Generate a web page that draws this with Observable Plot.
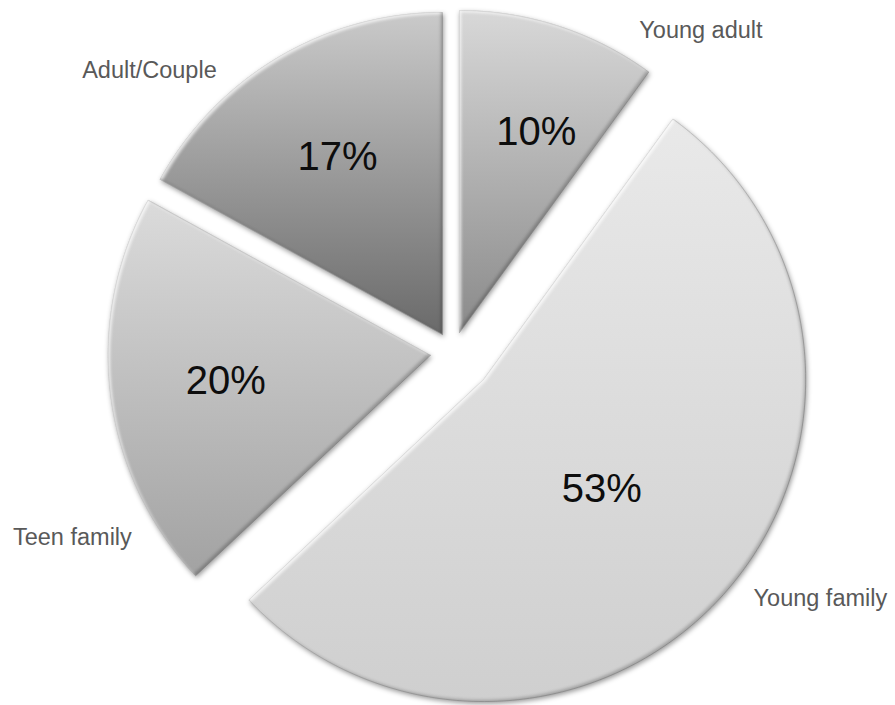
<!DOCTYPE html>
<html>
<head>
<meta charset="utf-8">
<script src="https://cdn.jsdelivr.net/npm/d3@7"></script>
<script src="https://cdn.jsdelivr.net/npm/@observablehq/plot@0.6"></script>
<style>
  html, body { margin: 0; padding: 0; background: #ffffff; }
  #chart { width: 895px; height: 705px; }
  #chart svg { font-family: "Liberation Sans", Arial, sans-serif; }
</style>
</head>
<body>
<div id="chart"></div>
<script>
// ---- data ----
const categories = ["Young adult", "Young family", "Teen family", "Adult/Couple"];
const shares = [10, 53, 20, 17];            // percent
const pctLabels = ["10%", "53%", "20%", "17%"];

// ---- layout (style, not data) ----
const explode = [0.065, 0.127, 0.071, 0.065];      // slice offset, in radius units
const pctDist = [0.665, 0.5, 0.64, 0.64];          // percent label distance from slice apex
const pctTurn = [3, 1.4, 0, 0];                    // small angular nudge of percent labels (deg)
const nameAngle = [37.6, 123.8, 244.1, 312.9];     // category label polar position (deg, clockwise from 12h)
const nameDist = [1.262, 1.373, 1.314, 1.287];
const gradTop = ["#d8d8d8", "#e9e9e9", "#dbdbdb", "#cacaca"];
const gradBottom = ["#8a8a8a", "#cfcfcf", "#a2a2a2", "#6a6a6a"];

const W = 895, H = 705, cx = 452.5, cy = 352, R = 322;

const arcs = d3.pie().sort(null).startAngle(0).endAngle(2 * Math.PI)(shares);

// polygon points of each slice (unit radius, y pointing down)
const slices = arcs.map((a, i) => {
  const mid = (a.startAngle + a.endAngle) / 2;
  const ox = explode[i] * Math.sin(mid), oy = -explode[i] * Math.cos(mid);
  const n = Math.max(8, Math.ceil((a.endAngle - a.startAngle) / (Math.PI / 180)));
  const pts = [{x: ox, y: oy}];
  for (let k = 0; k <= n; k++) {
    const t = a.startAngle + (a.endAngle - a.startAngle) * k / n;
    pts.push({x: ox + Math.sin(t), y: oy - Math.cos(t)});
  }
  pts.push({x: ox, y: oy});
  return {i, mid, ox, oy, pts};
});

const pctData = slices.map(s => {
  const t = s.mid + pctTurn[s.i] * Math.PI / 180;
  return {
    label: pctLabels[s.i],
    x: s.ox + pctDist[s.i] * Math.sin(t),
    y: s.oy - pctDist[s.i] * Math.cos(t)
  };
});

const nameData = categories.map((c, i) => {
  const t = nameAngle[i] * Math.PI / 180;
  return {label: c, x: nameDist[i] * Math.sin(t), y: -nameDist[i] * Math.cos(t)};
});

function defsMark() {
  const g = d3.create("svg:g");
  const defs = g.append("defs");
  slices.forEach(s => {
    const lg = defs.append("linearGradient")
      .attr("id", "grad" + s.i).attr("x1", 0).attr("y1", 0).attr("x2", 0).attr("y2", 1);
    lg.append("stop").attr("offset", "0%").attr("stop-color", gradTop[s.i]);
    lg.append("stop").attr("offset", "100%").attr("stop-color", gradBottom[s.i]);
  });
  const f = defs.append("filter").attr("id", "fx")
    .attr("x", "-10%").attr("y", "-10%").attr("width", "120%").attr("height", "120%")
    .attr("color-interpolation-filters", "sRGB");
  f.append("feGaussianBlur").attr("in", "SourceAlpha").attr("stdDeviation", 1.5).attr("result", "b");
  f.append("feOffset").attr("in", "b").attr("dx", 2).attr("dy", 2).attr("result", "o1");
  f.append("feComposite").attr("in", "SourceAlpha").attr("in2", "o1").attr("operator", "out").attr("result", "hl");
  f.append("feFlood").attr("flood-color", "#ffffff").attr("flood-opacity", 0.75).attr("result", "white");
  f.append("feComposite").attr("in", "white").attr("in2", "hl").attr("operator", "in").attr("result", "hlc");
  f.append("feOffset").attr("in", "b").attr("dx", -2).attr("dy", -2).attr("result", "o2");
  f.append("feComposite").attr("in", "SourceAlpha").attr("in2", "o2").attr("operator", "out").attr("result", "sh");
  f.append("feFlood").attr("flood-color", "#000000").attr("flood-opacity", 0.22).attr("result", "black");
  f.append("feComposite").attr("in", "black").attr("in2", "sh").attr("operator", "in").attr("result", "shc");
  f.append("feGaussianBlur").attr("in", "SourceAlpha").attr("stdDeviation", 2.5).attr("result", "d0");
  f.append("feOffset").attr("in", "d0").attr("dx", 1).attr("dy", 2).attr("result", "d1");
  f.append("feFlood").attr("flood-color", "#000000").attr("flood-opacity", 0.4).attr("result", "dk");
  f.append("feComposite").attr("in", "dk").attr("in2", "d1").attr("operator", "in").attr("result", "ds");
  const m = f.append("feMerge");
  ["ds", "SourceGraphic", "hlc", "shc"].forEach(n => m.append("feMergeNode").attr("in", n));
  return g.node();
}

const plot = Plot.plot({
  width: W,
  height: H,
  margin: 0,
  x: {domain: [-1, 1], range: [cx - R, cx + R], axis: null},
  y: {domain: [-1, 1], range: [cy - R, cy + R], axis: null},
  style: {background: "#ffffff"},
  marks: [
    defsMark,
    ...slices.map(s => Plot.line(s.pts, {
      x: "x", y: "y",
      fill: `url(#grad${s.i})`,
      stroke: "#9c9c9c", strokeWidth: 0.6, strokeLinejoin: "round",
      curve: "linear"
    })),
    Plot.text(pctData, {x: "x", y: "y", text: "label", fontSize: 40, fill: "#0d0d0d",
      textAnchor: "middle", lineAnchor: "middle"}),
    Plot.text(nameData, {x: "x", y: "y", text: "label", fontSize: 23.5, fill: "#595959",
      textAnchor: "middle", lineAnchor: "middle"})
  ]
});

d3.select(plot).selectAll('g[aria-label="line"] path').attr("filter", "url(#fx)");
document.getElementById("chart").appendChild(plot);
</script>
</body>
</html>
